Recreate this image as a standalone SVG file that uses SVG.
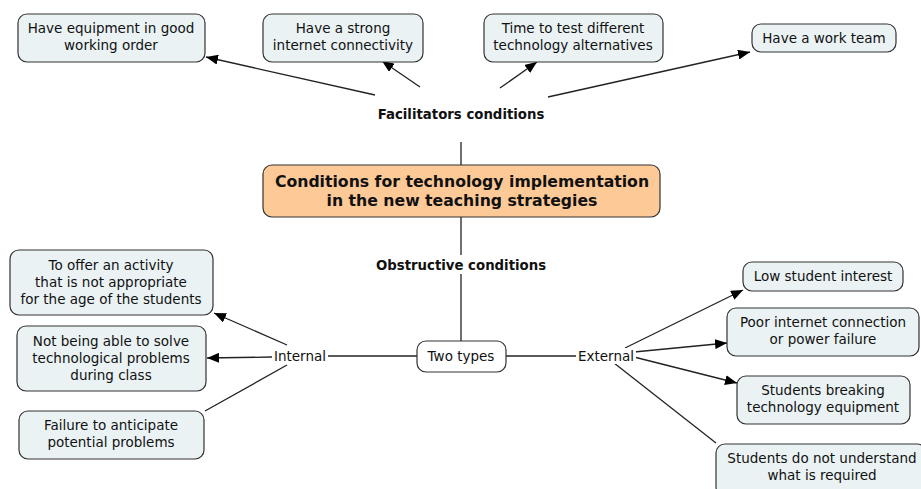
<svg xmlns="http://www.w3.org/2000/svg" width="921" height="489" viewBox="0 0 921 489">
<style>
.n rect{fill:#EAF2F4;stroke:#333;stroke-width:1.2}
.w rect{fill:#fff}
.c rect{fill:#FDC997}
text{font-family:"DejaVu Sans",Verdana,sans-serif;font-size:13.5px;fill:#111;text-anchor:middle}
.b{font-weight:bold;font-size:13.3px}
.m{font-size:15.7px}
.e path,.e line{stroke:#222;stroke-width:1.3;fill:none}
</style>
<defs>
<marker id="ar" viewBox="0 0 12 10" refX="12" refY="5" markerWidth="12" markerHeight="10" markerUnits="userSpaceOnUse" orient="auto">
<path d="M0,0 L12,5 L0,10 z" fill="#000"/>
</marker>
</defs>
<g class="e" id="connectors">
<line x1="461" y1="142" x2="461" y2="165"/>
<line x1="461" y1="217" x2="461" y2="255"/>
<line x1="461" y1="274" x2="461" y2="341"/>
<line x1="417" y1="356" x2="328" y2="356"/>
<line x1="506" y1="356" x2="577" y2="356"/>
<line x1="375" y1="95" x2="206" y2="57" marker-end="url(#ar)"/>
<line x1="420" y1="87" x2="382" y2="61" marker-end="url(#ar)"/>
<line x1="500" y1="88" x2="537" y2="62" marker-end="url(#ar)"/>
<line x1="548" y1="97" x2="750" y2="52" marker-end="url(#ar)"/>
<line x1="287" y1="345" x2="214" y2="313" marker-end="url(#ar)"/>
<line x1="272" y1="357" x2="207" y2="358" marker-end="url(#ar)"/>
<line x1="287" y1="365" x2="205" y2="411"/>
<line x1="625" y1="348" x2="743" y2="290" marker-end="url(#ar)"/>
<line x1="634" y1="352" x2="727" y2="343" marker-end="url(#ar)"/>
<line x1="634" y1="357" x2="737" y2="383" marker-end="url(#ar)"/>
<line x1="614" y1="363" x2="716" y2="443"/>
</g>
<g id="facilitators"><text class="b" x="461" y="119">Facilitators conditions</text></g>
<g id="obstructive"><text class="b" x="461" y="270">Obstructive conditions</text></g>
<g id="internal"><rect x="272" y="348" width="56" height="16" fill="#fff"/><text x="300" y="361">Internal</text></g>
<g id="external"><rect x="576" y="348" width="60" height="16" fill="#fff"/><text x="606" y="361">External</text></g>
<g class="n" id="n1"><rect x="18" y="14" width="187" height="48" rx="9"/><text x="111" y="33">Have equipment in good</text><text x="111" y="50">working order</text></g>
<g class="n" id="n2"><rect x="263" y="14" width="160" height="48" rx="9"/><text x="343" y="33">Have a strong</text><text x="343" y="50">internet connectivity</text></g>
<g class="n" id="n3"><rect x="484" y="14" width="179" height="48" rx="9"/><text x="573" y="33">Time to test different</text><text x="573" y="50">technology alternatives</text></g>
<g class="n" id="n4"><rect x="752" y="24" width="144" height="28" rx="9"/><text x="824" y="43">Have a work team</text></g>
<g class="n c" id="central"><rect x="263" y="165" width="397" height="52" rx="9"/><text class="b m" x="462" y="187">Conditions for technology implementation</text><text class="b m" x="462" y="206">in the new teaching strategies</text></g>
<g class="n w" id="twotypes"><rect x="417" y="341" width="89" height="31" rx="9"/><text x="461" y="361">Two types</text></g>
<g class="n" id="l1"><rect x="10" y="250" width="203" height="65" rx="9"/><text x="111" y="270">To offer an activity</text><text x="111" y="287">that is not appropriate</text><text x="111" y="304">for the age of the students</text></g>
<g class="n" id="l2"><rect x="17" y="326" width="189" height="65" rx="9"/><text x="111" y="346">Not being able to solve</text><text x="111" y="363">technological problems</text><text x="111" y="380">during class</text></g>
<g class="n" id="l3"><rect x="19" y="411" width="185" height="48" rx="9"/><text x="111" y="430">Failure to anticipate</text><text x="111" y="447">potential problems</text></g>
<g class="n" id="r1"><rect x="743" y="262" width="160" height="29" rx="9"/><text x="823" y="281">Low student interest</text></g>
<g class="n" id="r2"><rect x="727" y="308" width="192" height="48" rx="9"/><text x="823" y="327">Poor internet connection</text><text x="823" y="344">or power failure</text></g>
<g class="n" id="r3"><rect x="737" y="376" width="173" height="48" rx="9"/><text x="823" y="395">Students breaking</text><text x="823" y="412">technology equipment</text></g>
<g class="n" id="r4"><rect x="716" y="444" width="210" height="52" rx="9"/><text x="822" y="463">Students do not understand</text><text x="822" y="480">what is required</text></g>
</svg>
